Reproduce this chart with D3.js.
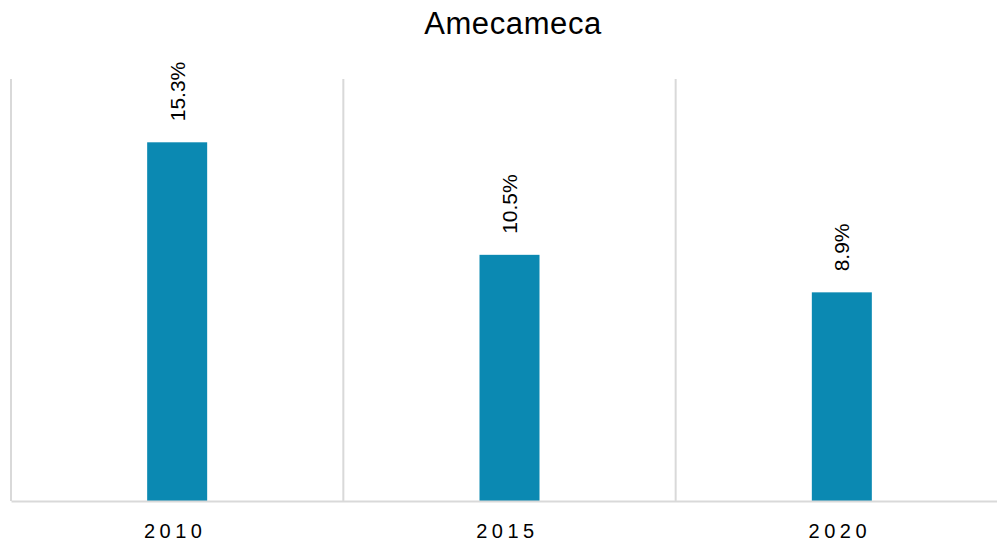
<!DOCTYPE html>
<html><head><meta charset="utf-8">
<script src="https://cdn.jsdelivr.net/npm/d3@7"></script>
<style>body{margin:0;background:#fff;overflow:hidden}svg{display:block}</style>
</head><body>
<script>
const categories = ["2010", "2015", "2020"];
const values = [15.3, 10.5, 8.9];
const labels = ["15.3%", "10.5%", "8.9%"];
const title = "Amecameca";

const W = 997, H = 541;
const svg = d3.select("body").append("svg").attr("width", W).attr("height", H);
const font = "'Liberation Sans', Arial, sans-serif";

const x = d3.scaleBand().domain(categories).range([11, 1008]).padding(0);
const y = d3.scaleLinear().domain([0, 18]).range([501, 79]);

svg.append("text").attr("x", 513).attr("y", 34).attr("text-anchor", "middle")
  .attr("font-family", font).attr("font-size", 31).style("letter-spacing", "0.6px")
  .attr("fill", "#000").text(title);

// vertical separators
const seps = categories.map(c => x(c)).concat([x.range()[1]]);
svg.selectAll("line.sep").data(seps).enter().append("line")
  .attr("x1", d => d).attr("x2", d => d).attr("y1", y(18)).attr("y2", y(0))
  .attr("stroke", "#d9d9d9").attr("stroke-width", 2);

const bw = 60;
svg.selectAll("rect.bar").data(values).enter().append("rect")
  .attr("x", (d, i) => x(categories[i]) + x.bandwidth() / 2 - bw / 2)
  .attr("width", bw)
  .attr("y", d => y(d))
  .attr("height", d => y(0) - y(d))
  .attr("fill", "#0B89B2");

// baseline
const xAxis = svg.append("g").attr("transform", `translate(0,${y(0)})`)
  .call(d3.axisBottom(x).tickSize(0).tickPadding(0));
xAxis.select(".domain").attr("stroke", "#d9d9d9").attr("stroke-width", 2);
xAxis.selectAll("text").attr("font-family", font).attr("font-size", 20)
  .attr("fill", "#000").attr("dy", 0).attr("y", 37)
  .style("letter-spacing", "4.5px").attr("dx", -2);

svg.selectAll("text.lbl").data(values).enter().append("text")
  .attr("transform", (d, i) => `translate(${x(categories[i]) + x.bandwidth() / 2 + 7.5},${y(d) - 21}) rotate(-90)`)
  .attr("text-anchor", "start")
  .attr("font-family", font).attr("font-size", 21).attr("fill", "#000")
  .text((d, i) => labels[i]);
</script>
</body></html>
